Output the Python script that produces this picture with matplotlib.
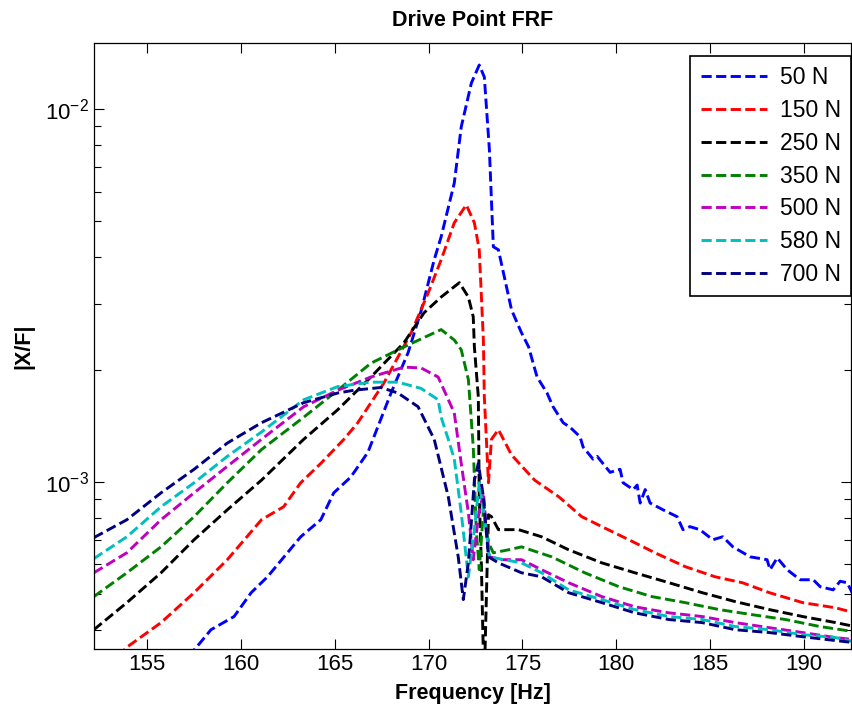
import numpy as np
import matplotlib
matplotlib.use('Agg')
import matplotlib.pyplot as plt
from matplotlib.ticker import LogLocator, NullFormatter

plt.rcParams['font.family'] = ['Liberation Sans', 'DejaVu Sans']
plt.rcParams['mathtext.fontset'] = 'custom'
plt.rcParams['mathtext.rm'] = 'Liberation Sans'
plt.rcParams['axes.unicode_minus'] = False

# 주파수 [Hz] / 크기 |X/F| (x 1e-3)
f_50 = [157.2, 157.66, 158.41, 159.64, 160.55, 161.42, 163.19, 164.26, 164.95, 165.86,
        166.77, 168.0, 168.91, 169.6, 170.3, 170.67, 171.37, 171.74, 172.28, 172.7,
        172.97, 173.24, 173.45, 173.72, 174.42, 174.95, 175.33, 175.57, 175.78, 176.31,
        176.63, 177.17, 177.54, 178.07, 178.23, 178.76, 178.98, 179.67, 180.2, 180.36,
        180.9, 181.11, 181.27, 181.54, 181.8, 182.49, 183.24, 183.55, 183.92, 184.45,
        185.14, 185.67, 186.21, 187.13, 188.03, 188.19, 188.57, 189.1, 189.79, 190.49,
        190.86, 191.55, 191.92, 192.3, 192.56]
m_50 = [0.34, 0.361, 0.401, 0.435, 0.504, 0.556, 0.712, 0.791, 0.934, 1.03,
        1.20, 1.73, 2.22, 2.87, 3.94, 4.54, 6.33, 8.95, 11.74, 13.12,
        12.18, 7.77, 4.27, 4.19, 2.89, 2.51, 2.30, 2.08, 1.91, 1.73,
        1.59, 1.44, 1.40, 1.32, 1.24, 1.15, 1.17, 1.06, 1.08, 0.994,
        0.953, 0.98, 0.877, 0.953, 0.877, 0.841, 0.806, 0.744, 0.758, 0.744,
        0.699, 0.712, 0.669, 0.629, 0.618, 0.581, 0.625, 0.581, 0.546, 0.546,
        0.523, 0.513, 0.541, 0.536, 0.504]

f_150 = [153.45, 153.93, 155.75, 157.51, 159.28, 161.1, 162.28, 163.19, 164.26, 165.49,
         166.23, 167.62, 169.07, 169.98, 170.67, 171.37, 172.01, 172.44, 172.7, 172.92,
         172.97, 173.19, 173.35, 173.72, 174.42, 175.65, 176.93, 178.16, 179.23, 180.67,
         182.06, 183.67, 185.27, 186.72, 188.16, 189.93, 191.69, 192.7]
m_150 = [0.34, 0.36, 0.419, 0.504, 0.618, 0.791, 0.857, 0.994, 1.12, 1.30,
         1.44, 1.84, 2.51, 3.21, 3.94, 4.95, 5.53, 4.95, 4.19, 2.40,
         1.69, 0.994, 1.30, 1.38, 1.18, 1.01, 0.912, 0.806, 0.758, 0.699,
         0.645, 0.592, 0.556, 0.536, 0.504, 0.474, 0.459, 0.445]

f_250 = [152.17, 153.93, 155.75, 157.51, 159.28, 161.1, 163.35, 165.16, 166.93, 168.69,
         169.76, 170.67, 171.64, 172.12, 172.38, 172.44, 172.65, 172.7, 172.81, 172.92,
         173.0, 173.08, 173.19, 173.35, 173.72, 174.79, 176.02, 177.46, 179.23, 180.99,
         182.81, 184.58, 186.34, 188.16, 189.93, 191.69, 192.7]
m_250 = [0.401, 0.474, 0.570, 0.699, 0.841, 1.01, 1.30, 1.56, 1.91, 2.36,
         2.84, 3.13, 3.42, 3.13, 2.77, 2.30, 1.69, 0.912, 0.606, 0.34,
         0.34, 0.492, 0.816, 0.806, 0.744, 0.744, 0.712, 0.657, 0.606, 0.570,
         0.536, 0.504, 0.477, 0.454, 0.435, 0.419, 0.409]

f_350 = [152.17, 153.93, 155.75, 157.51, 159.28, 161.1, 163.35, 165.16, 166.93, 168.69,
         170.67, 171.37, 171.74, 172.12, 172.38, 172.54, 172.7, 172.92, 173.19, 173.45,
         174.26, 174.95, 176.56, 178.32, 180.14, 181.9, 183.67, 185.49, 187.25, 189.02,
         190.84, 192.7]
m_350 = [0.492, 0.570, 0.669, 0.806, 0.994, 1.22, 1.49, 1.76, 2.08, 2.30,
         2.56, 2.40, 2.26, 1.88, 1.24, 0.744, 0.581, 0.841, 0.686, 0.645,
         0.657, 0.669, 0.629, 0.570, 0.523, 0.492, 0.474, 0.454, 0.440, 0.427,
         0.409, 0.396]

f_500 = [152.17, 153.93, 155.75, 157.51, 159.28, 161.1, 163.35, 165.16, 166.93, 168.69,
         169.6, 170.51, 171.37, 171.74, 172.12, 172.38, 172.65, 172.92, 173.08, 173.24,
         173.88, 174.95, 176.02, 177.46, 179.23, 180.99, 182.81, 184.58, 186.34, 188.16,
         189.93, 191.69, 192.7]
m_500 = [0.570, 0.645, 0.791, 0.934, 1.10, 1.30, 1.59, 1.76, 1.91, 2.03,
         2.02, 1.91, 1.53, 1.12, 0.826, 0.618, 0.806, 0.934, 0.744, 0.629,
         0.618, 0.618, 0.581, 0.536, 0.492, 0.462, 0.445, 0.435, 0.419, 0.406,
         0.394, 0.382, 0.377]

f_580 = [152.17, 153.93, 155.75, 157.51, 159.28, 161.1, 163.35, 165.16, 166.93, 168.37,
         169.6, 170.51, 170.67, 171.05, 171.37, 171.74, 172.12, 172.44, 172.7, 172.97,
         173.24, 174.04, 174.95, 176.02, 177.46, 179.23, 180.99, 182.81, 184.58, 186.34,
         188.16, 189.93, 191.69, 192.7]
m_580 = [0.622, 0.712, 0.857, 0.994, 1.17, 1.36, 1.66, 1.80, 1.85, 1.85,
         1.78, 1.66, 1.49, 1.30, 1.15, 0.826, 0.556, 0.744, 0.994, 0.806,
         0.629, 0.618, 0.606, 0.570, 0.513, 0.483, 0.454, 0.435, 0.427, 0.409,
         0.401, 0.389, 0.382, 0.372]

f_700 = [152.17, 153.93, 155.75, 157.51, 159.28, 161.1, 163.35, 165.16, 166.02, 167.46,
         168.37, 169.44, 170.3, 171.05, 171.58, 171.85, 172.12, 172.44, 172.65, 172.92,
         173.19, 173.72, 174.95, 176.02, 177.46, 179.23, 180.99, 182.81, 184.58, 186.34,
         188.16, 189.93, 192.7]
m_700 = [0.708, 0.791, 0.934, 1.08, 1.27, 1.44, 1.63, 1.73, 1.76, 1.79,
         1.73, 1.59, 1.30, 0.912, 0.629, 0.483, 0.606, 1.01, 1.12, 0.912,
         0.629, 0.606, 0.570, 0.556, 0.504, 0.474, 0.445, 0.427, 0.419, 0.401,
         0.394, 0.384, 0.370]

series = [
    (f_50, m_50, '50 N', 'b'),
    (f_150, m_150, '150 N', 'r'),
    (f_250, m_250, '250 N', 'k'),
    (f_350, m_350, '350 N', (0, 0.5, 0)),
    (f_500, m_500, '500 N', 'm'),
    (f_580, m_580, '580 N', 'c'),
    (f_700, m_700, '700 N', (0, 0, 0.5)),
]

fig = plt.figure(figsize=(8.52, 7.17), dpi=100)
ax = fig.add_axes([94 / 852, 68 / 717, 757 / 852, 606 / 717])

for f, m, label, color in series:
    ax.semilogy(f, np.array(m) * 1e-3, color=color, lw=2.1,
                dashes=(3.5, 1.5), label=label)

ax.set_xlim(152.18, 192.5)
ax.set_ylim(3.56e-4, 1.503e-2)
ax.set_xticks([155, 160, 165, 170, 175, 180, 185, 190])
ax.yaxis.set_major_locator(LogLocator(base=10, numticks=10))
ax.yaxis.set_minor_locator(LogLocator(base=10, subs=np.arange(2, 10), numticks=20))
ax.yaxis.set_minor_formatter(NullFormatter())
ax.tick_params(which='both', direction='in', top=True, right=True, labelsize=16, width=0.8)
ax.tick_params(which='major', length=7)
ax.tick_params(which='minor', length=5)
for s in ax.spines.values():
    s.set_linewidth(0.9)

ax.set_title('Drive Point FRF', fontsize=15.5, fontweight='bold', pad=12)
ax.set_xlabel('Frequency [Hz]', fontsize=15.5, fontweight='bold', labelpad=6)
ax.set_ylabel('|X/F|', fontsize=15.5, fontweight='bold', labelpad=8)

leg = ax.legend(loc='upper right', bbox_to_anchor=(1.0, 0.979), fontsize=16.5,
                handlelength=2.9, handletextpad=0.55, labelspacing=0.43,
                borderpad=0.45, borderaxespad=0, fancybox=False, framealpha=1)
leg.get_frame().set_edgecolor('k')
leg.get_frame().set_linewidth(1.2)

fig.savefig('out.png', dpi=100)
